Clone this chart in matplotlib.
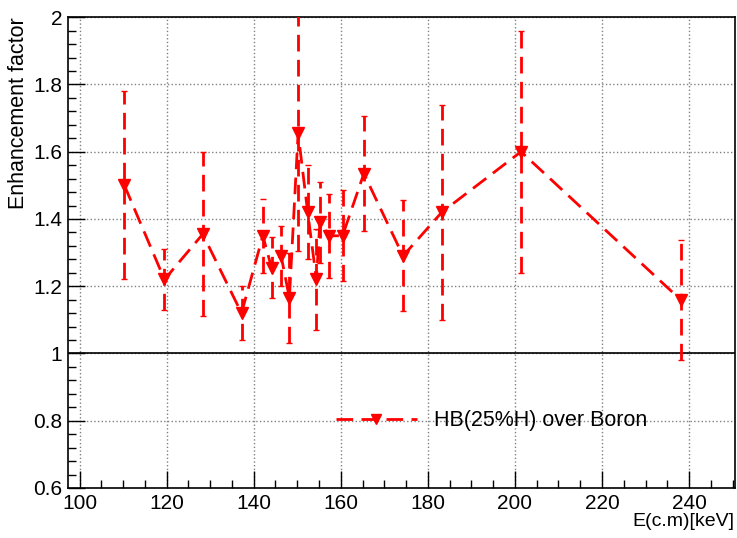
import numpy as np
import matplotlib.pyplot as plt
from matplotlib.ticker import MultipleLocator
from matplotlib.lines import Line2D

plt.rcParams['font.family'] = ['Liberation Sans', 'DejaVu Sans']

# Datos
energy = [110.3, 119.5, 128.3, 137.2, 142.1, 144.1, 146.3, 148.2, 150.2, 152.4,
          154.4, 155.2, 157.4, 160.4, 165.3, 174.3, 183.2, 201.4, 238.2]
factor = [1.50, 1.22, 1.355, 1.12, 1.35, 1.255, 1.29, 1.165, 1.655, 1.42,
          1.22, 1.39, 1.35, 1.35, 1.535, 1.29, 1.42, 1.60, 1.158]
error = [0.28, 0.09, 0.245, 0.08, 0.11, 0.09, 0.09, 0.135, 0.35, 0.14,
         0.15, 0.12, 0.125, 0.135, 0.17, 0.165, 0.32, 0.36, 0.178]

fig = plt.figure(figsize=(7.37, 5.38), dpi=100)
ax = fig.add_axes([0.092, 0.093, 0.905, 0.875])

dash = (0, (6, 3))
eb = ax.errorbar(energy, factor, yerr=error, color='#ff0000', lw=2, linestyle=dash,
                 marker='v', markersize=8, capsize=2, elinewidth=2, zorder=3)
for lc in eb[2]:
    lc.set_linestyle(dash)

# Linea de referencia en 1
ax.axhline(1.0, color='black', lw=1.2, zorder=2)

ax.set_xlim(97.3, 250.5)
ax.set_ylim(0.6, 2.0)
ax.xaxis.set_major_locator(MultipleLocator(20))
ax.xaxis.set_minor_locator(MultipleLocator(5))
ax.yaxis.set_major_locator(MultipleLocator(0.2))
ax.yaxis.set_minor_locator(MultipleLocator(0.04))
ax.yaxis.set_major_formatter(plt.FuncFormatter(lambda v, p: f'{v:.1f}'.rstrip('0').rstrip('.')))

ax.tick_params(which='both', direction='in', top=False, right=False, labelsize=15)
ax.tick_params(which='major', length=12, width=1)
ax.tick_params(which='minor', length=6, width=1)
ax.tick_params(axis='x', pad=4)
ax.tick_params(axis='y', pad=4)

ax.grid(True, which='major', linestyle=':', color='gray', lw=1)
for s in ax.spines.values():
    s.set_linewidth(1.2)

ax.set_xlabel('E(c.m)[keV]', fontsize=14, loc='right', labelpad=0)
ax.set_ylabel('Enhancement factor', fontsize=15.5, loc='top', labelpad=3)

handle = Line2D([], [], color='#ff0000', lw=2, linestyle=dash, marker='v', markersize=7)
ax.legend([handle], ['HB(25%H) over Boron'], loc='center left',
          bbox_to_anchor=(0.373, 0.143), frameon=False,
          fontsize=15.5, handlelength=3.75, handletextpad=0.8)

plt.savefig('out.png', dpi=100)
